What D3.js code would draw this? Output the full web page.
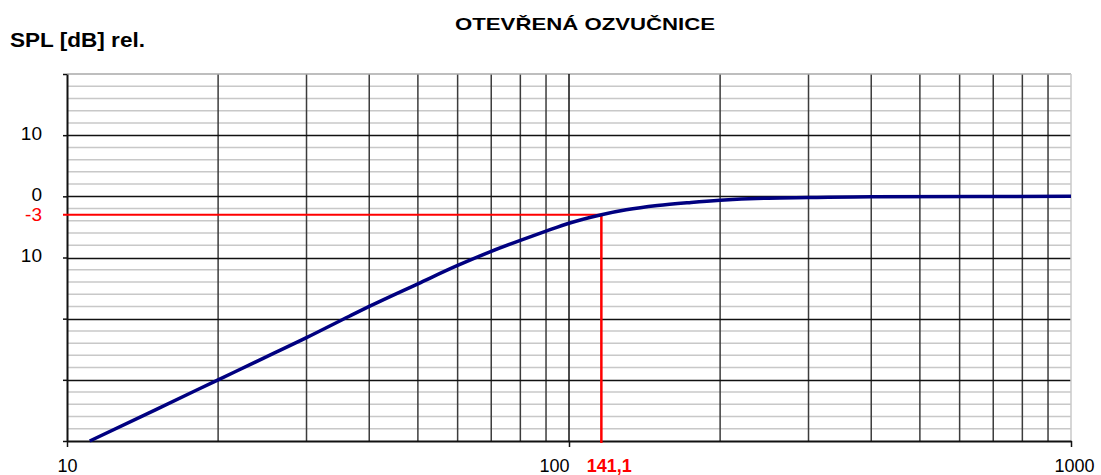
<!DOCTYPE html>
<html>
<head>
<meta charset="utf-8">
<script src="https://cdn.jsdelivr.net/npm/d3@7"></script>
<style>
  body { margin: 0; background: #fff; }
  text { font-family: "Liberation Sans", Arial, sans-serif; }
</style>
</head>
<body>
<svg id="chart"></svg>
<script>
// frequency response (Hz, dB)
const freqs = [11.1, 15, 20, 25, 30, 36.5, 40, 50, 60, 70, 80, 90, 100, 116, 130, 150, 175, 200, 250, 300, 400, 1000];
const levels = [-40, -34.9, -30, -26.2, -23.1, -19.6, -18, -14.3, -11.3, -9, -7.2, -5.7, -4.4, -3.0, -2.2, -1.5, -1.0, -0.65, -0.3, -0.2, -0.05, 0];

const xTickValues = [10, 100, 1000];
const xTickLabels = ["10", "100", "1000"];
const yTickValues = [10, 0, -10];
const yTickLabels = ["10", "0", "10"];

// -3 dB marker (position as drawn in the original, label as printed)
const markerFreq = 116;
const markerLevel = -3;
const markerFreqLabel = "141,1";
const markerLevelLabel = "-3";

const w = 1101, h = 475;
const margin = { top: 74, right: 30, bottom: 34, left: 67 };

const svg = d3.select("#chart").attr("width", w).attr("height", h);

const xScale = d3.scaleLog()
    .domain([10, 1000])
    .range([margin.left, w - margin.right]);

const yScale = d3.scaleLinear()
    .domain([-40, 20])
    .range([h - margin.bottom, margin.top]);

const grid = svg.append("g");

// minor horizontal lines every 2 dB
grid.selectAll(".hminor")
    .data(d3.range(-38, 20, 2).filter(v => v % 10 !== 0))
    .join("line")
    .attr("x1", xScale(10)).attr("x2", xScale(1000))
    .attr("y1", d => yScale(d)).attr("y2", d => yScale(d))
    .attr("stroke", "#c8c8c8")
    .attr("stroke-width", 1.5);

// minor vertical lines
const minorFreqs = [];
[10, 100].forEach(dec => { for (let k = 2; k <= 9; k++) minorFreqs.push(dec * k); });
grid.selectAll(".vminor")
    .data(minorFreqs)
    .join("line")
    .attr("x1", d => xScale(d)).attr("x2", d => xScale(d))
    .attr("y1", yScale(20)).attr("y2", yScale(-40))
    .attr("stroke", "#3c3c3c")
    .attr("stroke-width", 1.5);

// major horizontal lines
grid.selectAll(".hmajor")
    .data([10, 0, -10, -20, -30])
    .join("line")
    .attr("x1", xScale(10)).attr("x2", xScale(1000))
    .attr("y1", d => Math.round(yScale(d)) + 0.5).attr("y2", d => Math.round(yScale(d)) + 0.5)
    .attr("stroke", "#111")
    .attr("stroke-width", 1.5);

// frame top / right
grid.append("line")
    .attr("x1", xScale(10)).attr("x2", xScale(1000))
    .attr("y1", yScale(20)).attr("y2", yScale(20))
    .attr("stroke", "#a8a8a8").attr("stroke-width", 1.5);
grid.append("line")
    .attr("x1", xScale(1000)).attr("x2", xScale(1000))
    .attr("y1", yScale(20)).attr("y2", yScale(-40))
    .attr("stroke", "#c8c8c8").attr("stroke-width", 1.5);

// decade line at 100
grid.append("line")
    .attr("x1", xScale(100)).attr("x2", xScale(100))
    .attr("y1", yScale(20)).attr("y2", yScale(-40))
    .attr("stroke", "#111").attr("stroke-width", 1.5);

// axes
const xAxis = g => g
    .attr("transform", `translate(0,${yScale(-40)})`)
    .call(d3.axisBottom(xScale).tickValues(xTickValues)
        .tickFormat((d, i) => xTickLabels[i]).tickSize(6).tickPadding(12).tickSizeOuter(0))
    .call(g => g.select(".domain").attr("stroke", "#111").attr("stroke-width", 2))
    .call(g => g.selectAll(".tick line").attr("stroke", "#111").attr("stroke-width", 1.5))
    .call(g => g.selectAll(".tick text")
        .attr("font-size", 18).attr("fill", "#000")
        .attr("dx", d => d === 100 ? -15 : (d === 1000 ? 3 : 0)));

const yAxis = g => g
    .attr("transform", `translate(${xScale(10)},0)`)
    .call(d3.axisLeft(yScale).tickValues(d3.range(-40, 21, 10))
        .tickFormat(d => { const i = yTickValues.indexOf(d); return i >= 0 ? yTickLabels[i] : ""; })
        .tickSize(4).tickPadding(21).tickSizeOuter(0))
    .call(g => g.select(".domain").attr("stroke", "#111").attr("stroke-width", 2))
    .call(g => g.selectAll(".tick line").attr("stroke", "#111").attr("stroke-width", 1.5))
    .call(g => g.selectAll(".tick text").attr("font-size", 19).attr("fill", "#000").attr("dy", "0.22em"));

svg.append("g").call(xAxis);
svg.append("g").call(yAxis);

// -3 dB marker lines
svg.append("line")
    .attr("x1", xScale(10) - 4).attr("x2", xScale(markerFreq))
    .attr("y1", yScale(markerLevel)).attr("y2", yScale(markerLevel))
    .attr("stroke", "#ff0000").attr("stroke-width", 2);
svg.append("line")
    .attr("x1", xScale(markerFreq)).attr("x2", xScale(markerFreq))
    .attr("y1", yScale(markerLevel)).attr("y2", yScale(-40) + 2)
    .attr("stroke", "#ff0000").attr("stroke-width", 2.5);

svg.append("text")
    .attr("x", xScale(10) - 25).attr("y", yScale(markerLevel))
    .attr("dy", "0.35em")
    .attr("text-anchor", "end")
    .attr("font-size", 19).attr("fill", "#ff0000")
    .text(markerLevelLabel);

svg.append("text")
    .attr("x", xScale(markerFreq) + 8).attr("y", yScale(-40) + 18)
    .attr("dy", "0.71em")
    .attr("text-anchor", "middle")
    .attr("font-size", 18).attr("font-weight", "bold").attr("fill", "#ff0000")
    .text(markerFreqLabel);

// response curve
const line = d3.line()
    .x((d, i) => xScale(freqs[i]))
    .y(d => yScale(d))
    .curve(d3.curveMonotoneX);

svg.append("path")
    .datum(levels)
    .attr("d", line)
    .attr("fill", "none")
    .attr("stroke", "#000080")
    .attr("stroke-width", 3.5);

// titles
svg.append("text")
    .attr("x", 455).attr("y", 30)
    .attr("font-size", 17).attr("font-weight", "bold")
    .attr("textLength", 260).attr("lengthAdjust", "spacingAndGlyphs")
    .text("OTEVŘENÁ OZVUČNICE");

svg.append("text")
    .attr("x", 10).attr("y", 47)
    .attr("font-size", 21).attr("font-weight", "bold")
    .attr("textLength", 135).attr("lengthAdjust", "spacingAndGlyphs")
    .text("SPL [dB] rel.");
</script>
</body>
</html>
